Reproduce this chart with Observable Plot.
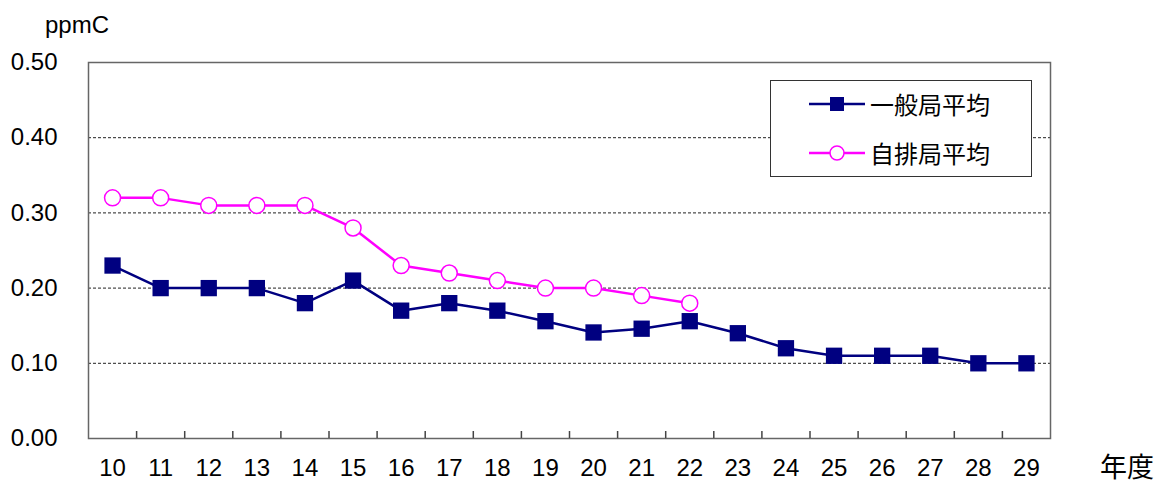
<!DOCTYPE html>
<html>
<head>
<meta charset="utf-8">
<script src="https://cdn.jsdelivr.net/npm/d3@7"></script>
<script src="https://cdn.jsdelivr.net/npm/@observablehq/plot@0.6"></script>
<style>
  body { margin: 0; background: #fff; font-family: "Noto Sans CJK JP", "Noto Sans", sans-serif; }
  #wrap { position: relative; width: 1161px; height: 483px; }
  .lbl { position: absolute; color: #000; line-height: 1; }
  #legend { position: absolute; left: 770px; top: 80px; width: 260px; height: 95px; border: 1px solid #333; background: #fff; }
  .row { position: absolute; left: 38px; display: flex; align-items: center; font-size: 24px; line-height: 1; }
  .row svg { margin-right: 5px; }
</style>
</head>
<body>
<div id="wrap">
  <div id="chart"></div>
  <div class="lbl" style="left:45px; top:13px; font-size:24px; font-family:'Liberation Sans', Arial, sans-serif;">ppmC</div>
  <div class="lbl" style="left:1100px; top:452px; font-size:27px;">年度</div>
  <div id="legend"></div>
</div>
<script>
const years = [10,11,12,13,14,15,16,17,18,19,20,21,22,23,24,25,26,27,28,29];
const ippan = [0.23,0.20,0.20,0.20,0.18,0.21,0.17,0.18,0.17,0.156,0.141,0.146,0.156,0.14,0.12,0.11,0.11,0.11,0.10,0.10];
const jihaiYears = [10,11,12,13,14,15,16,17,18,19,20,21,22];
const jihai = [0.32,0.32,0.31,0.31,0.31,0.28,0.23,0.22,0.21,0.20,0.20,0.19,0.18];
const yTicks = [0,0.1,0.2,0.3,0.4,0.5];
const gridY = [0.1,0.2,0.3,0.4];
const seriesNames = ["一般局平均","自排局平均"];
const colors = ["#000080","#FF00FF"];

const dataA = years.map((y,i)=>({year:y, v:ippan[i]}));
const dataB = jihaiYears.map((y,i)=>({year:y, v:jihai[i]}));
const boundaries = years.slice(0,-1).map(y=>y+0.5);

const plot = Plot.plot({
  width: 1161,
  height: 483,
  marginLeft: 88,
  marginRight: 111,
  marginTop: 62,
  marginBottom: 45,
  style: {fontFamily: '"Liberation Sans", Arial, sans-serif', fontSize: "24px", color: "#000", background: "#fff"},
  x: {type: "linear", domain: [years[0]-0.5, years[years.length-1]+0.5]},
  y: {domain: [0, 0.5]},
  marks: [
    Plot.ruleY(gridY, {stroke: "#222", strokeDasharray: "3,2", strokeWidth: 1}),
    Plot.frame({stroke: "#666", strokeWidth: 1.5}),
    Plot.axisY({ticks: yTicks, tickFormat: d3.format(".2f"), tickSize: 0, tickPadding: 31, label: null, fontSize: 24}),
    Plot.axisX({ticks: years, tickFormat: d=>String(d), tickSize: 0, tickPadding: 20, label: null, fontSize: 24}),
    Plot.axisX({ticks: boundaries, tickFormat: ()=>"", tickSize: -7, label: null, stroke: "#444", strokeWidth: 1.5}),
    Plot.line(dataA, {x: "year", y: "v", stroke: colors[0], strokeWidth: 2.5}),
    Plot.dot(dataA, {x: "year", y: "v", symbol: "square", r: 9.2, fill: colors[0], stroke: "none"}),
    Plot.line(dataB, {x: "year", y: "v", stroke: colors[1], strokeWidth: 2.5}),
    Plot.dot(dataB, {x: "year", y: "v", symbol: "circle", r: 8, fill: "#fff", stroke: colors[1], strokeWidth: 1.5})
  ]
});
document.getElementById("chart").appendChild(plot);

const legend = document.getElementById("legend");
seriesNames.forEach((name,i)=>{
  const row = document.createElement("div");
  row.className = "row";
  row.style.top = (i===0 ? 10 : 59) + "px";
  const sym = i===0
    ? `<rect x="21" y="6" width="14" height="14" fill="${colors[0]}"/>`
    : `<circle cx="28" cy="13" r="7" fill="#fff" stroke="${colors[1]}" stroke-width="1.5"/>`;
  row.innerHTML = `<svg width="56" height="26"><line x1="0" y1="13" x2="56" y2="13" stroke="${colors[i]}" stroke-width="2.5"/>${sym}</svg><span>${name}</span>`;
  legend.appendChild(row);
});
</script>
</body>
</html>
